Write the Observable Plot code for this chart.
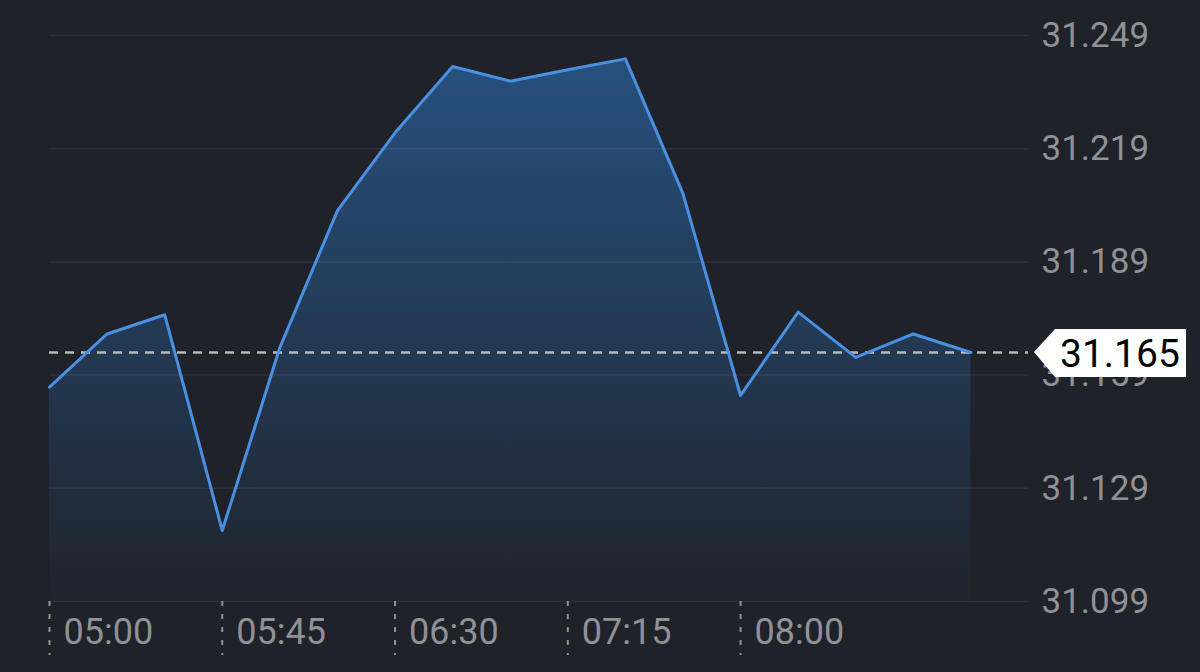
<!DOCTYPE html>
<html>
<head>
<meta charset="utf-8">
<script src="https://cdn.jsdelivr.net/npm/d3@7"></script>
<script src="https://cdn.jsdelivr.net/npm/@observablehq/plot@0.6"></script>
<style>
  html, body { margin: 0; padding: 0; background: #1f2229; }
  #chart svg { display: block; }
</style>
</head>
<body>
<div id="chart"></div>
<script>
const times = ["05:00","05:15","05:30","05:45","06:00","06:15","06:30","06:45","07:00","07:15","07:30","07:45","08:00","08:15","08:30","08:45","09:00"];
const values = [31.1558, 31.1699, 31.1750, 31.1178, 31.1663, 31.2026, 31.2232, 31.2408, 31.2369, 31.2399, 31.2428, 31.2071, 31.1536, 31.1757, 31.1637, 31.1699, 31.1650];
const xTickLabels = ["05:00","05:45","06:30","07:15","08:00"];
const yTicks = [31.099, 31.129, 31.159, 31.189, 31.219, 31.249];
const lastPrice = 31.165;
const xDomainLabels = ["05:00", "09:15"];

const parseT = s => new Date(`2024-01-01T${s}:00Z`);
const data = times.map((t, i) => ({t: parseT(t), v: values[i]}));
const xTicks = xTickLabels.map(parseT);
const baseline = yTicks[0];

const gridColor = "rgba(255,255,255,0.07)";
const labelColor = "#8f9196";

const defs = () => {
  const d = d3.create("svg:defs");
  const g = d.append("linearGradient").attr("id", "areaGrad")
    .attr("gradientUnits", "userSpaceOnUse")
    .attr("x1", 0).attr("x2", 0).attr("y1", 55).attr("y2", 601);
  g.append("stop").attr("offset", "0%").attr("stop-color", "#2f7fd4").attr("stop-opacity", 0.5);
  g.append("stop").attr("offset", "100%").attr("stop-color", "#2f7fd4").attr("stop-opacity", 0.02);
  return d.node();
};

const priceLabel = (index, scales, values, dims) => {
  const y = scales.y(lastPrice);
  const x0 = dims.width - dims.marginRight + 6;
  const g = d3.create("svg:g");
  g.append("path")
    .attr("d", `M${x0},${y} L${x0 + 21},${y - 23} H${x0 + 152} V${y + 25} H${x0 + 21} Z`)
    .attr("fill", "#ffffff");
  g.append("text")
    .attr("x", x0 + 26)
    .attr("y", y + 2)
    .attr("text-anchor", "start")
    .attr("dominant-baseline", "central")
    .attr("font-size", 39)
    .attr("fill", "#000")
    .text(d3.format(".3f")(lastPrice));
  return g.node();
};

const chart = Plot.plot({
  width: 1200,
  height: 672,
  marginTop: 35,
  marginBottom: 71,
  marginLeft: 49,
  marginRight: 172,
  style: {background: "#1f2229", fontFamily: "Roboto, 'Liberation Sans', sans-serif"},
  x: {type: "utc", domain: xDomainLabels.map(parseT)},
  y: {domain: [yTicks[0], yTicks[yTicks.length - 1]]},
  marks: [
    defs,
    Plot.areaY(data, {x: "t", y1: baseline, y2: "v", fill: "url(#areaGrad)"}),
    Plot.ruleY(yTicks, {stroke: gridColor, strokeWidth: 1.5}),
    Plot.ruleY([lastPrice], {stroke: "#b8babe", strokeWidth: 2.5, strokeDasharray: "9,7"}),
    Plot.line(data, {x: "t", y: "v", stroke: "#4a90e2", strokeWidth: 3}),
    Plot.axisY(yTicks, {anchor: "right", tickSize: 0, tickPadding: 13, fontSize: 35, fill: labelColor, tickFormat: d3.format(".3f"), label: null}),
    Plot.axisX(xTicks, {anchor: "bottom", tickSize: 54, stroke: labelColor, strokeWidth: 2, strokeDasharray: "5,8", tickFormat: () => "", label: null}),
    Plot.axisX(xTicks, {anchor: "bottom", tickSize: 0, tickPadding: 17, fontSize: 36, fill: labelColor, textAnchor: "start", dx: 14, tickFormat: d3.utcFormat("%H:%M"), label: null}),
    priceLabel
  ]
});
document.getElementById("chart").appendChild(chart);
</script>
</body>
</html>
